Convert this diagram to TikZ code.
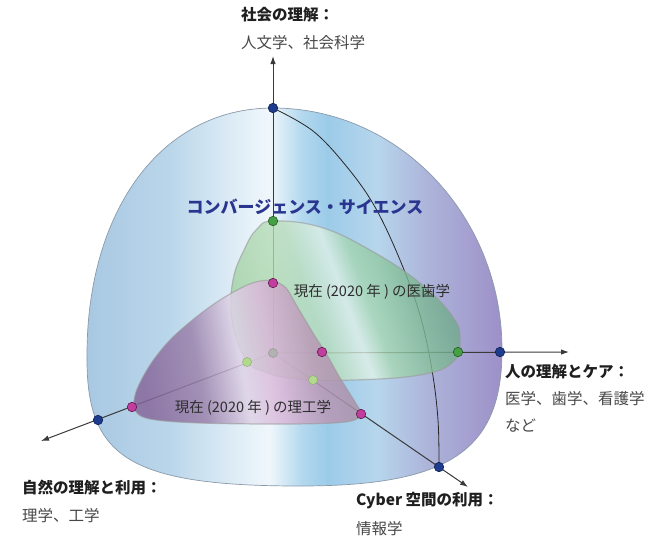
\documentclass[tikz,border=0pt]{standalone}
\usepackage{fontspec}
\setmainfont{Noto Sans CJK JP}
\usepackage{tikz}
\usetikzlibrary{arrows.meta,positioning,shadings}

\definecolor{poleblue}{HTML}{1E3C8E}
\definecolor{poleline}{HTML}{0E1E52}
\definecolor{medgreen}{HTML}{45A045}
\definecolor{medline}{HTML}{245A24}
\definecolor{engpink}{HTML}{C23E9E}
\definecolor{engline}{HTML}{5A1C4A}
\definecolor{hidgreen}{HTML}{B3D98C}
\definecolor{hidline}{HTML}{8BAF70}
\definecolor{axisgray}{HTML}{3A3A3A}
\definecolor{titleblue}{HTML}{2A3590}
\definecolor{sphereline}{HTML}{8A9AAA}

\definecolor{sphA}{HTML}{A8C8E2}
\definecolor{sphB}{HTML}{BAD6EA}
\definecolor{sphC}{HTML}{DFEDF6}
\definecolor{sphD}{HTML}{F0F7FB}
\definecolor{sphE}{HTML}{B2D8EE}
\definecolor{sphF}{HTML}{9CCBE9}
\definecolor{sphG}{HTML}{B7D6EC}
\definecolor{sphH}{HTML}{ADB4DA}
\definecolor{sphI}{HTML}{9D90C8}

\definecolor{grnA}{HTML}{9FD0A0}
\definecolor{grnB}{HTML}{B8DDBA}
\definecolor{grnC}{HTML}{E2F2E8}
\definecolor{grnD}{HTML}{A6D6B2}
\definecolor{grnE}{HTML}{80BC95}
\definecolor{grnF}{HTML}{6AA486}

\definecolor{magA}{HTML}{86669A}
\definecolor{magB}{HTML}{9C82AC}
\definecolor{magC}{HTML}{DED2E6}
\definecolor{magD}{HTML}{DAB8DA}
\definecolor{magE}{HTML}{BA98B6}
\definecolor{magF}{HTML}{A68EA4}

\pgfdeclarehorizontalshading{sphereshade}{100bp}{%
  color(0bp)=(sphA); color(25bp)=(sphA); color(35bp)=(sphB); color(43bp)=(sphC);
  color(47bp)=(sphD); color(51bp)=(sphE); color(54bp)=(sphF); color(60bp)=(sphG);
  color(66bp)=(sphH); color(75bp)=(sphI); color(100bp)=(sphI)}
\pgfdeclarehorizontalshading{medshade}{100bp}{%
  color(0bp)=(grnA); color(25bp)=(grnA); color(42bp)=(grnB); color(50bp)=(grnC);
  color(55bp)=(grnD); color(65bp)=(grnE); color(75bp)=(grnF); color(100bp)=(grnF)}
\pgfdeclarehorizontalshading{engshade}{100bp}{%
  color(0bp)=(magA); color(25bp)=(magA); color(38bp)=(magB); color(48bp)=(magC);
  color(55bp)=(magD); color(65bp)=(magE); color(75bp)=(magF); color(100bp)=(magF)}

\begin{document}
\begin{tikzpicture}[
    x=1pt, y=-1pt,
    >={Latex[length=8pt,width=5.5pt]},
    axis/.style={
		draw=axisgray,
		line width=1pt
	},
	pole/.style={
		circle,
		draw=poleline,
		fill=poleblue,
		inner sep=0pt,
		minimum size=9.5pt,
		line width=0.6pt
	},
	medpt/.style={
		circle,
		draw=medline,
		fill=medgreen,
		inner sep=0pt,
		minimum size=9.5pt,
		line width=0.6pt
	},
	engpt/.style={
		circle,
		draw=engline,
		fill=engpink,
		inner sep=0pt,
		minimum size=9.5pt,
		line width=0.6pt
	},
	hidpt/.style={
		circle,
		draw=hidline,
		fill=hidgreen,
		inner sep=0pt,
		minimum size=9pt,
		line width=0.5pt
	},
	axistitle/.style={
		inner sep=0pt,
		anchor=west,
		text=black!88,
		font=\bfseries\fontsize{15.5}{18}\selectfont
	},
	axissub/.style={
		inner sep=0pt,
		anchor=west,
		text=black!72,
		font=\fontsize{15.5}{18}\selectfont
	},
	areatext/.style={
		inner sep=0pt,
		text=black!82,
		font=\fontsize{14.5}{17}\selectfont
	}
  ]
\useasboundingbox (0,0) rectangle (666,542);

% // The sphere
\shade [shading=sphereshade, draw=sphereline, line width=0.7pt]
  (273,108) .. controls (160,108) and (87,212) .. (87,355)
  .. controls (86,455) and (125,486) .. (300,486)
  .. controls (450,486) and (502,450) .. (502,350)
  .. controls (502,216) and (399,108) .. cycle;

% meridian
\draw [black!85, line width=0.8pt] plot [smooth, tension=0.6] coordinates {
  (273,108) (313,131) (347,167) (375,207) (400,260) (420,315) (432,370) (438,420) (439,467)};

% axes
\coordinate (o) at (273,353);
\coordinate (tipUp) at (273,56);
\coordinate (tipRight) at (569,352);
\coordinate (tipLeft) at (41,441);
\coordinate (tipFront) at (468,487);
\draw [axis, ->] (o) -- (tipUp);
\draw [axis, ->] (o) -- (tipRight);
\draw [axis, ->] (o) -- (tipLeft);
\draw [axis, ->] (o) -- (tipFront);

% // The areas
\shade [shading=medshade, shading angle=20, fill opacity=0.78, draw=black!40, draw opacity=0.6, line width=1.2pt]
  plot [smooth cycle, tension=0.7] coordinates {
  (273,221) (320,227) (370,250) (420,283) (453,317) (460,340) (453,362)
  (420,375) (353,380) (300,379) (265,372) (245,358) (232,320) (233,280)
  (245,248) (257,229)};
\shade [shading=engshade, shading angle=10, fill opacity=0.84, draw=black!40, draw opacity=0.6, line width=1.2pt]
  plot [smooth cycle, tension=0.55] coordinates {
  (273,281) (286,288) (298,308) (313,333) (327,355) (340,378) (355,402)
  (361,415) (345,422) (290,424) (200,423) (150,419) (135,410) (136,392)
  (150,365) (170,340) (195,318) (220,300) (245,286) (260,281)};

% points
\node [hidpt, fill=black!30, draw=black!40] (origin) at (o) {};
\node [hidpt] (medLeft) at (247,362) {};
\node [hidpt] (medFront) at (313,380) {};
\node [pole] (poleUp) at (273,108) {};
\node [pole] (poleRight) at (500,352) {};
\node [pole] (poleLeft) at (98,420) {};
\node [pole] (poleFront) at (439,467) {};
\node [medpt] (medUp) at (273,221) {};
\node [medpt] (medRight) at (458,352) {};
\node [engpt] (engUp) at (273,283) {};
\node [engpt] (engRight) at (322,352) {};
\node [engpt] (engLeft) at (132,407) {};
\node [engpt] (engFront) at (361,414) {};

% texts
\node [text=titleblue, inner sep=0pt, font=\bfseries\fontsize{17}{20}\selectfont] (conv) at (305,207) {コンバージェンス・サイエンス};
\node [areatext] (medText) at (372,292) {現在 (2020 年 ) の医歯学};
\node [areatext] (engText) at (253,408) {現在 (2020 年 ) の理工学};

\node [axistitle] (socTitle) at (241,15) {社会の理解：};
\node [axissub] (socSub) at ([yshift=-28pt]socTitle.west) {人文学、社会科学};

\node [axistitle] (humTitle) at (505,372) {人の理解とケア：};
\node [axissub] (humSub) at ([yshift=-27pt]humTitle.west) {医学、歯学、看護学};
\node [axissub] (humSub2) at ([yshift=-27pt]humSub.west) {など};

\node [axistitle] (natTitle) at (22,488) {自然の理解と利用：};
\node [axissub] (natSub) at ([yshift=-28pt]natTitle.west) {理学、工学};

\node [axistitle] (cybTitle) at (356,501) {Cyber 空間の利用：};
\node [axissub] (cybSub) at ([yshift=-28pt]cybTitle.west) {情報学};

\end{tikzpicture}
\end{document}
